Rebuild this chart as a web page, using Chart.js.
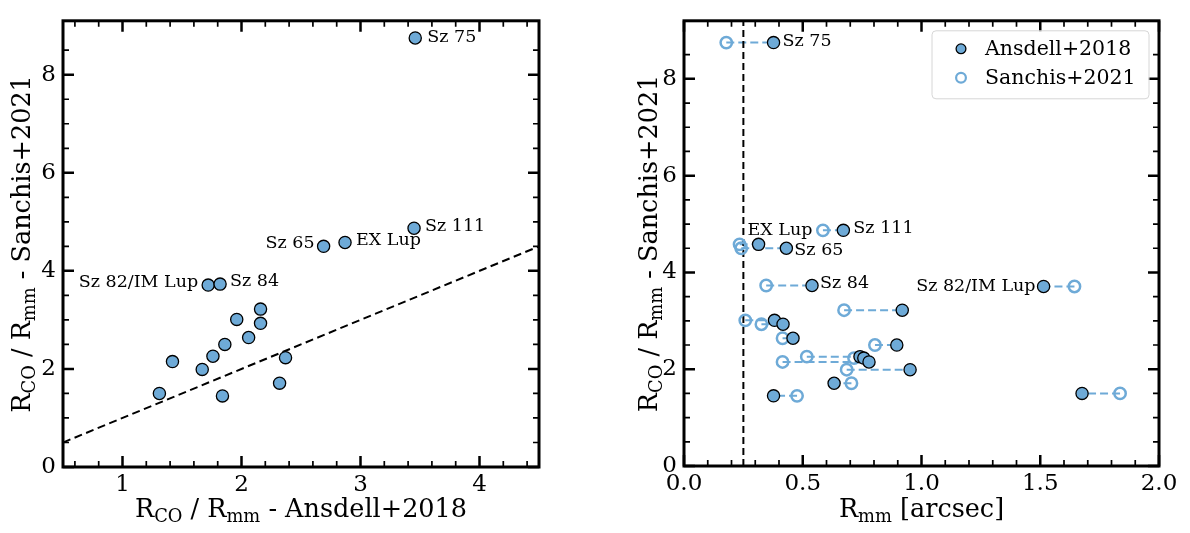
<!DOCTYPE html>
<html>
<head>
<meta charset="utf-8">
<title>Rco / Rmm</title>
<script src="https://cdn.jsdelivr.net/npm/chart.js@4/dist/chart.umd.min.js"></script>
<style>
  html, body { margin: 0; padding: 0; background: #fff; }
  #wrap { position: relative; width: 1190px; height: 533px; }
  #c1 { position: absolute; left: 0; top: 0; }
  #c2 { position: absolute; left: 600px; top: 0; }
</style>
</head>
<body>
<div id="wrap">
  <canvas id="c1" width="600" height="533"></canvas>
  <canvas id="c2" width="590" height="533"></canvas>
</div>
<script>
// disc names (only the labelled ones have text)
const names = ['Sz 75', 'Sz 111', 'EX Lup', 'Sz 65', 'Sz 82/IM Lup', 'Sz 84',
  '', '', '', '', '', '', '', '', '', '', '', ''];
// R_CO / R_mm with Ansdell+2018 radii (left panel x)
const ratioAnsdell = [3.46, 3.45, 2.87, 2.69, 1.72, 1.82, 2.16, 1.96, 2.16,
  2.06, 1.86, 1.76, 2.37, 1.42, 1.67, 2.32, 1.31, 1.84];
// R_CO / R_mm with Sanchis+2021 radii (y in both panels)
const ratioSanchis = [8.75, 4.87, 4.58, 4.50, 3.71, 3.73, 3.22, 3.01, 2.93,
  2.64, 2.50, 2.26, 2.23, 2.15, 1.99, 1.71, 1.50, 1.45];
// R_mm [arcsec]
const rmmAnsdell = [0.377, 0.671, 0.314, 0.431, 1.514, 0.539, 0.919, 0.381, 0.417,
  0.459, 0.896, 0.741, 0.757, 0.779, 0.952, 0.632, 1.676, 0.377];
const rmmSanchis = [0.178, 0.585, 0.234, 0.241, 1.644, 0.346, 0.674, 0.258, 0.326,
  0.415, 0.804, 0.517, 0.716, 0.415, 0.685, 0.705, 1.836, 0.476];

const oneToOne = [0.5, 4.5];   // y = x line
const beamSize = 0.25;         // vertical dashed line, arcsec
const leftX = [0.5, 4.5], leftY = [0, 9.1];
const rightX = [0, 2], rightY = [0, 9.2];

const BLUE = '#6eaad7';
const FONT = '"DejaVu Serif", "Liberation Serif", serif';
const TICK_SIZE = 23;
const TITLE_SIZE = 25.5;

const isMult = (v, s) => Math.abs(v / s - Math.round(v / s)) < 1e-6;

// label offsets in px: [dx, dy, align]
const leftLabelPos = {
  'Sz 75': [12, -1, 'left'], 'Sz 111': [11, -2, 'left'], 'EX Lup': [11, -2, 'left'],
  'Sz 65': [-9, -3, 'right'], 'Sz 82/IM Lup': [-10, -3, 'right'], 'Sz 84': [10, -3, 'left']
};
const rightLabelPos = {
  'Sz 75': [9, -1, 'left'], 'Sz 111': [10, -2, 'left'], 'EX Lup': [-11, -14, 'left'],
  'Sz 65': [8, 2, 'left'], 'Sz 84': [8, -2, 'left'], 'Sz 82/IM Lup': [-8, 0, 'right']
};

// text with subscripts: parts = [[text, isSub], ...]
function drawRich(ctx, parts, cx, base, size, rotate) {
  const sub = size * 0.7;
  let w = 0;
  parts.forEach(p => {
    ctx.font = (p[1] ? sub : size) + 'px ' + FONT;
    w += ctx.measureText(p[0]).width;
  });
  ctx.save();
  if (rotate) {
    ctx.translate(cx, base);
    ctx.rotate(-Math.PI / 2);
  }
  let xx = rotate ? -w / 2 : cx - w / 2;
  const yy = rotate ? 0 : base;
  ctx.textAlign = 'left';
  ctx.textBaseline = 'alphabetic';
  parts.forEach(p => {
    ctx.font = (p[1] ? sub : size) + 'px ' + FONT;
    ctx.fillText(p[0], xx, yy + (p[1] ? size * 0.2 : 0));
    xx += ctx.measureText(p[0]).width;
  });
  ctx.restore();
}

// matplotlib-like frame with inward ticks on all sides
const framePlugin = {
  id: 'mplFrame',
  afterDraw(chart, args, opts) {
    const {ctx, chartArea: a, scales: {x, y}} = chart;
    ctx.save();
    ctx.strokeStyle = '#000';
    const tickSet = (scale, minor, major, horiz) => {
      scale.ticks.forEach(t => {
        const v = t.value;
        if (!isMult(v, minor)) return;
        const big = isMult(v, major);
        const p = scale.getPixelForValue(v);
        const len = big ? 11 : 6;
        ctx.lineWidth = big ? 2.5 : 1.7;
        ctx.beginPath();
        if (horiz) {
          ctx.moveTo(p, a.bottom); ctx.lineTo(p, a.bottom - len);
          ctx.moveTo(p, a.top); ctx.lineTo(p, a.top + len);
        } else {
          ctx.moveTo(a.left, p); ctx.lineTo(a.left + len, p);
          ctx.moveTo(a.right, p); ctx.lineTo(a.right - len, p);
        }
        ctx.stroke();
      });
    };
    tickSet(x, opts.xMinor, opts.xMajor, true);
    tickSet(y, opts.yMinor, opts.yMajor, false);
    ctx.lineWidth = 3;
    ctx.strokeRect(a.left, a.top, a.right - a.left, a.bottom - a.top);
    ctx.restore();
  }
};

// point labels, axis titles and legend
const textPlugin = {
  id: 'mplText',
  afterDraw(chart, args, opts) {
    const {ctx, chartArea: a, scales: {x, y}} = chart;
    ctx.save();
    ctx.fillStyle = '#000';
    ctx.font = '17.5px ' + FONT;
    ctx.textBaseline = 'middle';
    names.forEach((n, i) => {
      const pos = opts.labelPos[n];
      if (!n || !pos) return;
      const px = x.getPixelForValue(opts.xs[i]);
      const py = y.getPixelForValue(ratioSanchis[i]);
      ctx.textAlign = pos[2];
      ctx.fillText(n, px + pos[0], py + pos[1]);
    });
    drawRich(ctx, opts.xTitle, (a.left + a.right) / 2, 517, TITLE_SIZE, false);
    drawRich(ctx, opts.yTitle, opts.yTitleX, (a.top + a.bottom) / 2, TITLE_SIZE, true);

    if (opts.legend) {
      const bw = 217, bh = 68;
      const bx = a.right - 10 - bw, by = a.top + 10;
      ctx.beginPath();
      ctx.roundRect(bx, by, bw, bh, 4);
      ctx.fillStyle = 'rgba(255,255,255,0.8)';
      ctx.fill();
      ctx.strokeStyle = '#d6d6d6';
      ctx.lineWidth = 1;
      ctx.stroke();
      const rows = [['Ansdell+2018', true], ['Sanchis+2021', false]];
      rows.forEach((r, k) => {
        const my = by + 18 + k * 29;
        ctx.beginPath();
        ctx.arc(bx + 29, my, 4.9, 0, Math.PI * 2);
        if (r[1]) {
          ctx.fillStyle = BLUE; ctx.fill();
          ctx.strokeStyle = '#000'; ctx.lineWidth = 1.3; ctx.stroke();
        } else {
          ctx.strokeStyle = BLUE; ctx.lineWidth = 2.2; ctx.stroke();
        }
        ctx.fillStyle = '#000';
        ctx.font = '20.5px ' + FONT;
        ctx.textAlign = 'left';
        ctx.textBaseline = 'middle';
        ctx.fillText(r[0], bx + 53, my + 1);
      });
    }
    ctx.restore();
  }
};

function axes(xr, yr, xStep, xLabel, box) {
  return {
    x: {
      type: 'linear', position: 'bottom', min: xr[0], max: xr[1],
      grid: {display: false, drawTicks: false}, border: {display: false},
      afterFit: s => { s.height = 533 - box.bottom; },
      ticks: {
        stepSize: xStep, autoSkip: false, maxRotation: 0, maxTicksLimit: 1000,
        padding: 4, color: '#000', font: {family: FONT, size: TICK_SIZE},
        callback: xLabel
      }
    },
    y: {
      type: 'linear', min: yr[0], max: yr[1],
      grid: {display: false, drawTicks: false}, border: {display: false},
      afterFit: s => { s.width = box.left; },
      ticks: {
        stepSize: 0.5, autoSkip: false, maxTicksLimit: 1000,
        padding: 7, color: '#000', font: {family: FONT, size: TICK_SIZE},
        callback: v => isMult(v, 2) ? String(Math.round(v)) : ''
      }
    }
  };
}

const common = {
  responsive: false, animation: false, devicePixelRatio: 1,
  plugins: {legend: {display: false}, tooltip: {enabled: false}}
};

// left panel
new Chart(document.getElementById('c1'), {
  type: 'scatter',
  data: {
    datasets: [
      {
        data: ratioAnsdell.map((v, i) => ({x: v, y: ratioSanchis[i]})),
        backgroundColor: BLUE, borderColor: '#000', borderWidth: 1.3,
        pointRadius: 6.1, order: 0
      },
      {
        data: oneToOne.map(v => ({x: v, y: v})),
        showLine: true, pointRadius: 0, borderColor: '#000', borderWidth: 2,
        borderDash: [8, 4.5], order: 1
      }
    ]
  },
  options: {
    ...common,
    layout: {padding: {left: 0, right: 61, top: 3, bottom: 0}},
    scales: axes(leftX, leftY, 0.1, v => isMult(v, 1) ? String(Math.round(v)) : '',
      {left: 63, bottom: 467}),
    plugins: {
      ...common.plugins,
      mplFrame: {xMinor: 0.2, xMajor: 1, yMinor: 0.5, yMajor: 2},
      mplText: {
        labelPos: leftLabelPos, xs: ratioAnsdell,
        xTitle: [['R', 0], ['CO', 1], [' / R', 0], ['mm', 1], [' - Ansdell+2018', 0]],
        yTitle: [['R', 0], ['CO', 1], [' / R', 0], ['mm', 1], [' - Sanchis+2021', 0]],
        yTitleX: 30, legend: false
      }
    }
  },
  plugins: [framePlugin, textPlugin]
});

// right panel
const links = rmmAnsdell.map((v, i) => ({
  data: [{x: rmmSanchis[i], y: ratioSanchis[i]}, {x: v, y: ratioSanchis[i]}],
  showLine: true, pointRadius: 0, borderColor: BLUE, borderWidth: 2,
  borderDash: [8, 4], order: 3
}));

new Chart(document.getElementById('c2'), {
  type: 'scatter',
  data: {
    datasets: [
      {
        label: 'Ansdell+2018',
        data: rmmAnsdell.map((v, i) => ({x: v, y: ratioSanchis[i]})),
        backgroundColor: BLUE, borderColor: '#000', borderWidth: 1.3,
        pointRadius: 6.1, order: 0
      },
      {
        label: 'Sanchis+2021',
        data: rmmSanchis.map((v, i) => ({x: v, y: ratioSanchis[i]})),
        backgroundColor: 'rgba(0,0,0,0)', borderColor: BLUE, borderWidth: 2.5,
        pointRadius: 5.7, order: 1
      },
      {
        data: [{x: beamSize, y: rightY[0]}, {x: beamSize, y: rightY[1]}],
        showLine: true, pointRadius: 0, borderColor: '#000', borderWidth: 2,
        borderDash: [7, 4], order: 2
      },
      ...links
    ]
  },
  options: {
    ...common,
    layout: {padding: {left: 0, right: 31, top: 4, bottom: 0}},
    scales: axes(rightX, rightY, 0.1, v => isMult(v, 0.5) ? v.toFixed(1) : '',
      {left: 84, bottom: 466}),
    plugins: {
      ...common.plugins,
      mplFrame: {xMinor: 0.1, xMajor: 0.5, yMinor: 0.5, yMajor: 2},
      mplText: {
        labelPos: rightLabelPos, xs: rmmAnsdell,
        xTitle: [['R', 0], ['mm', 1], [' [arcsec]', 0]],
        yTitle: [['R', 0], ['CO', 1], [' / R', 0], ['mm', 1], [' - Sanchis+2021', 0]],
        yTitleX: 57, legend: true
      }
    }
  },
  plugins: [framePlugin, textPlugin]
});
</script>
</body>
</html>
